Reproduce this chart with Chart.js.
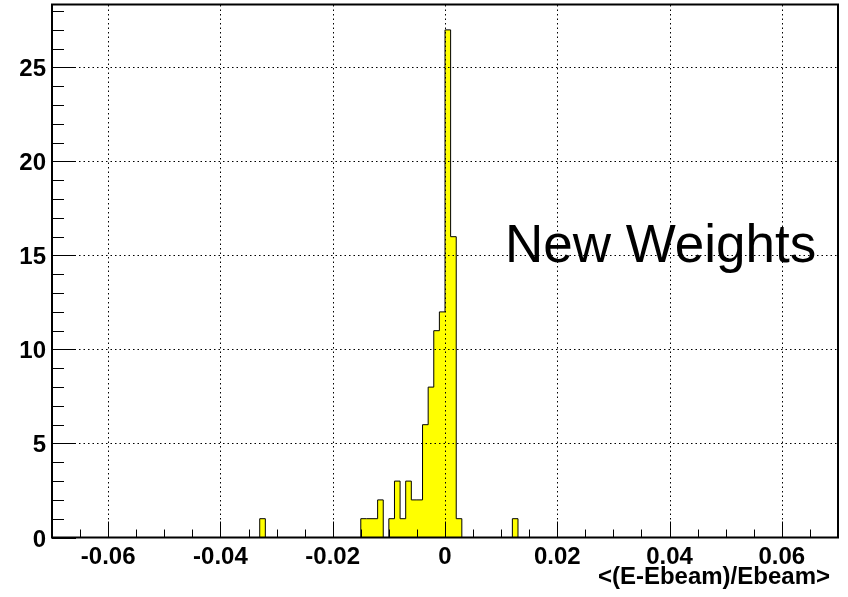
<!DOCTYPE html>
<html>
<head>
<meta charset="utf-8">
<script src="https://cdn.jsdelivr.net/npm/chart.js"></script>
<style>
  html, body { margin: 0; padding: 0; background: #fff; }
  canvas { display: block; }
</style>
</head>
<body>
<canvas id="hist" width="848" height="597"></canvas>
<script>
// histogram binning
const xMin = -0.07;
const xMax = 0.07;
const binWidth = 0.001;

// filled bins: lower edge and entries
const binLow   = [-0.033, -0.015, -0.014, -0.013, -0.012, -0.010, -0.009, -0.008, -0.007, -0.006, -0.005, -0.004, -0.003, -0.002, -0.001, 0.000, 0.001, 0.002, 0.012];
const binCount = [1, 1, 1, 1, 2, 1, 3, 1, 3, 2, 2, 6, 8, 11, 12, 27, 16, 1, 1];

// axis ticks and labels
const xTicks = [-0.06, -0.04, -0.02, 0, 0.02, 0.04, 0.06];
const xTickLabels = ['-0.06', '-0.04', '-0.02', '0', '0.02', '0.04', '0.06'];
const yTicks = [0, 5, 10, 15, 20, 25];
const yTickLabels = ['0', '5', '10', '15', '20', '25'];
const yMax = 28.35;

const xTitle = '<(E-Ebeam)/Ebeam>';
const label = 'New Weights';

// full list of bins, empty ones at zero
const nBins = Math.round((xMax - xMin) / binWidth);
const counts = new Array(nBins).fill(0);
binLow.forEach((lo, i) => {
  counts[Math.round((lo - xMin) / binWidth)] = binCount[i];
});
const steps = counts.map((c, i) => ({ x: xMin + i * binWidth, y: c }));
steps.push({ x: xMax, y: 0 });

const BOLD = 'bold 24px "Liberation Sans", Arial, Helvetica, sans-serif';

// grid, inward ticks, frame and texts
const framePlugin = {
  id: 'frame',
  afterDatasetsDraw(chart) {
    const ctx = chart.ctx;
    const xs = chart.scales.x, ys = chart.scales.y;
    const a = chart.chartArea;
    ctx.save();

    // dotted grid
    ctx.strokeStyle = '#000';
    ctx.lineWidth = 1;
    ctx.setLineDash([1.5, 3]);
    xTicks.forEach(v => {
      const px = Math.round(xs.getPixelForValue(v)) + 0.5;
      ctx.beginPath(); ctx.moveTo(px, a.bottom); ctx.lineTo(px, a.top); ctx.stroke();
    });
    yTicks.forEach(v => {
      if (v === 0) return;
      const py = Math.round(ys.getPixelForValue(v)) + 0.5;
      ctx.beginPath(); ctx.moveTo(a.left, py); ctx.lineTo(a.right, py); ctx.stroke();
    });
    ctx.setLineDash([]);

    // x ticks: major every 0.02, minor every 0.005
    for (let k = 0; k <= 28; k++) {
      const v = xMin + k * 0.005;
      const px = Math.round(xs.getPixelForValue(v)) + 0.5;
      const major = xTicks.some(t => Math.abs(t - v) < 1e-9);
      const len = major ? 16 : 8;
      ctx.beginPath(); ctx.moveTo(px, a.bottom); ctx.lineTo(px, a.bottom - len); ctx.stroke();
    }
    // y ticks: major every 5, minor every 1
    for (let v = 0; v <= Math.floor(yMax); v++) {
      const py = Math.round(ys.getPixelForValue(v)) + 0.5;
      const len = v % 5 === 0 ? 24 : 12;
      ctx.beginPath(); ctx.moveTo(a.left, py); ctx.lineTo(a.left + len, py); ctx.stroke();
    }

    // frame
    ctx.lineWidth = 2;
    ctx.strokeRect(a.left, a.top, a.right - a.left, a.bottom - a.top);

    // tick labels
    ctx.fillStyle = '#000';
    ctx.font = BOLD;
    ctx.textAlign = 'center';
    ctx.textBaseline = 'alphabetic';
    xTicks.forEach((v, i) => {
      ctx.fillText(xTickLabels[i], xs.getPixelForValue(v), 564);
    });
    ctx.textAlign = 'right';
    yTicks.forEach((v, i) => {
      ctx.fillText(yTickLabels[i], 46, ys.getPixelForValue(v) + 9);
    });

    // axis title
    ctx.fillText(xTitle, 830, 584);

    // label
    ctx.textAlign = 'left';
    ctx.font = '53px "Liberation Sans", Arial, Helvetica, sans-serif';
    ctx.fillText(label, 505, 262);

    ctx.restore();
  }
};

new Chart(document.getElementById('hist'), {
  type: 'line',
  data: {
    datasets: [{
      data: steps,
      stepped: 'before',
      fill: 'origin',
      backgroundColor: '#ffff00',
      borderColor: '#000',
      borderWidth: 1,
      pointRadius: 0,
      tension: 0
    }]
  },
  options: {
    responsive: false,
    animation: false,
    layout: { padding: { top: 4.5, right: 10, left: 0, bottom: 0 } },
    plugins: { legend: { display: false }, tooltip: { enabled: false } },
    scales: {
      x: {
        type: 'linear',
        min: xMin,
        max: xMax,
        grid: { display: false },
        border: { display: false },
        ticks: { display: false },
        afterFit(scale) { scale.height = 59.5; }
      },
      y: {
        min: 0,
        max: yMax,
        grid: { display: false },
        border: { display: false },
        ticks: { display: false },
        afterFit(scale) { scale.width = 52; }
      }
    }
  },
  plugins: [framePlugin]
});
</script>
</body>
</html>
